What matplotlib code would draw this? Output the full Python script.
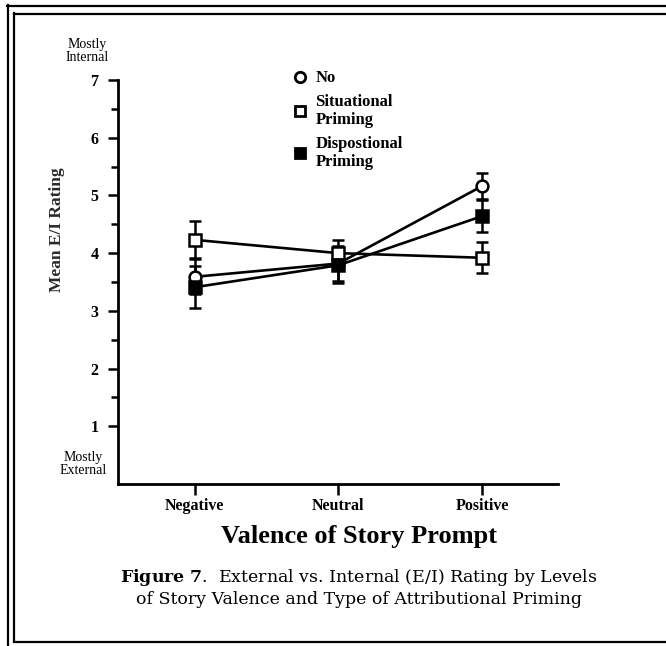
import matplotlib
matplotlib.use("Agg")
import matplotlib.pyplot as plt
from matplotlib.lines import Line2D

# data
valence = ["Negative", "Neutral", "Positive"]
xpos = [1, 2, 3]
no_prime = [3.59, 3.82, 5.16]
no_err = [0.30, 0.30, 0.23]
situational = [4.23, 4.00, 3.92]
situational_err = [0.32, 0.23, 0.27]
dispositional = [3.41, 3.79, 4.64]
dispositional_err = [0.36, 0.30, 0.28]
yticks = [1, 2, 3, 4, 5, 6, 7]

SERIF = ["Liberation Serif", "DejaVu Serif"]
plt.rcParams["font.family"] = SERIF
plt.rcParams["mathtext.fontset"] = "custom"
plt.rcParams["mathtext.bf"] = "DejaVu Serif:bold"
plt.rcParams["mathtext.rm"] = "DejaVu Serif"

W, H = 666, 646
fig = plt.figure(figsize=(W / 100, H / 100), dpi=100)
fig.patch.set_facecolor("white")

# double frame around the figure
def hline(y, x0, x1):
    fig.add_artist(Line2D([x0 / W, x1 / W], [1 - y / H, 1 - y / H],
                          color="black", lw=1.6, transform=fig.transFigure))

def vline(x, y0, y1):
    fig.add_artist(Line2D([x / W, x / W], [1 - y0 / H, 1 - y1 / H],
                          color="black", lw=1.6, transform=fig.transFigure))

hline(5.5, 7, W)
vline(7.5, 5, H)
hline(13.5, 14, W)
vline(14.5, 13, 641)
hline(641.5, 14, W)

ax = fig.add_axes([118 / W, 1 - 484 / H, (558 - 118) / W, (484 - 80) / H])

series = [
    (no_prime, no_err, "o", "white", "No"),
    (situational, situational_err, "s", "white", "Situational\nPriming"),
    (dispositional, dispositional_err, "s", "black", "Dispostional\nPriming"),
]
handles = []
for vals, err, mk, fc, lbl in series:
    ax.errorbar(xpos, vals, yerr=err, fmt="-" + mk, color="black", lw=1.9,
                ms=8.5, mfc=fc, mec="black", mew=1.8, elinewidth=1.8,
                capsize=4, capthick=1.8, zorder=3)
    handles.append(Line2D([], [], ls="none", marker=mk, ms=7.5, mfc=fc,
                          mec="black", mew=2.0, label=lbl))

ax.set_xlim(0.465, 3.53)
ax.set_ylim(0, 7)
ax.set_xticks(xpos)
ax.set_xticklabels(valence, fontsize=11.5, fontweight="bold")
ax.set_yticks(yticks)
ax.set_yticklabels([str(t) for t in yticks], fontsize=11.5, fontweight="bold")
ax.set_yticks([t + 0.5 for t in range(1, 7)], minor=True)
ax.tick_params(axis="y", which="major", direction="out", length=7, width=1.8, pad=7)
ax.tick_params(axis="y", which="minor", direction="out", length=5, width=1.8)
ax.tick_params(axis="x", direction="out", length=8, width=1.8, pad=2)
for s in ["top", "right"]:
    ax.spines[s].set_visible(False)
for s in ["left", "bottom"]:
    ax.spines[s].set_linewidth(2.0)
ax.spines["left"].set_bounds(0, 7)

ax.set_ylabel("Mean E/I Rating", fontsize=12.5, color="#2a2a2a", fontweight="bold")
ax.yaxis.set_label_coords(-0.12, 0.63)

fig.text(87 / W, 1 - 51 / H, "Mostly\nInternal", ha="center", va="center",
         fontsize=10, linespacing=1.05)
fig.text(83 / W, 1 - 464 / H, "Mostly\nExternal", ha="center", va="center",
         fontsize=10, linespacing=1.05)

fig.legend(handles=handles, loc="upper left", bbox_to_anchor=(283 / W, 1 - 62 / H),
           frameon=False, prop={"family": SERIF, "weight": "bold", "size": 12},
           handletextpad=0.45, labelspacing=0.45, handlelength=1.0, borderpad=0)

fig.text(359 / W, 1 - 537 / H, "Valence of Story Prompt", ha="center", va="center",
         fontsize=19, fontweight="bold")

fig.text(359 / W, 1 - 578 / H, r"$\mathbf{Figure\ 7}$.  External vs. Internal (E/I) Rating by Levels",
         ha="center", va="center", fontsize=12.5, family="DejaVu Serif")
fig.text(359 / W, 1 - 600 / H, "of Story Valence and Type of Attributional Priming",
         ha="center", va="center", fontsize=12.5, family="DejaVu Serif")

fig.savefig("out.png", dpi=100, facecolor="white")
